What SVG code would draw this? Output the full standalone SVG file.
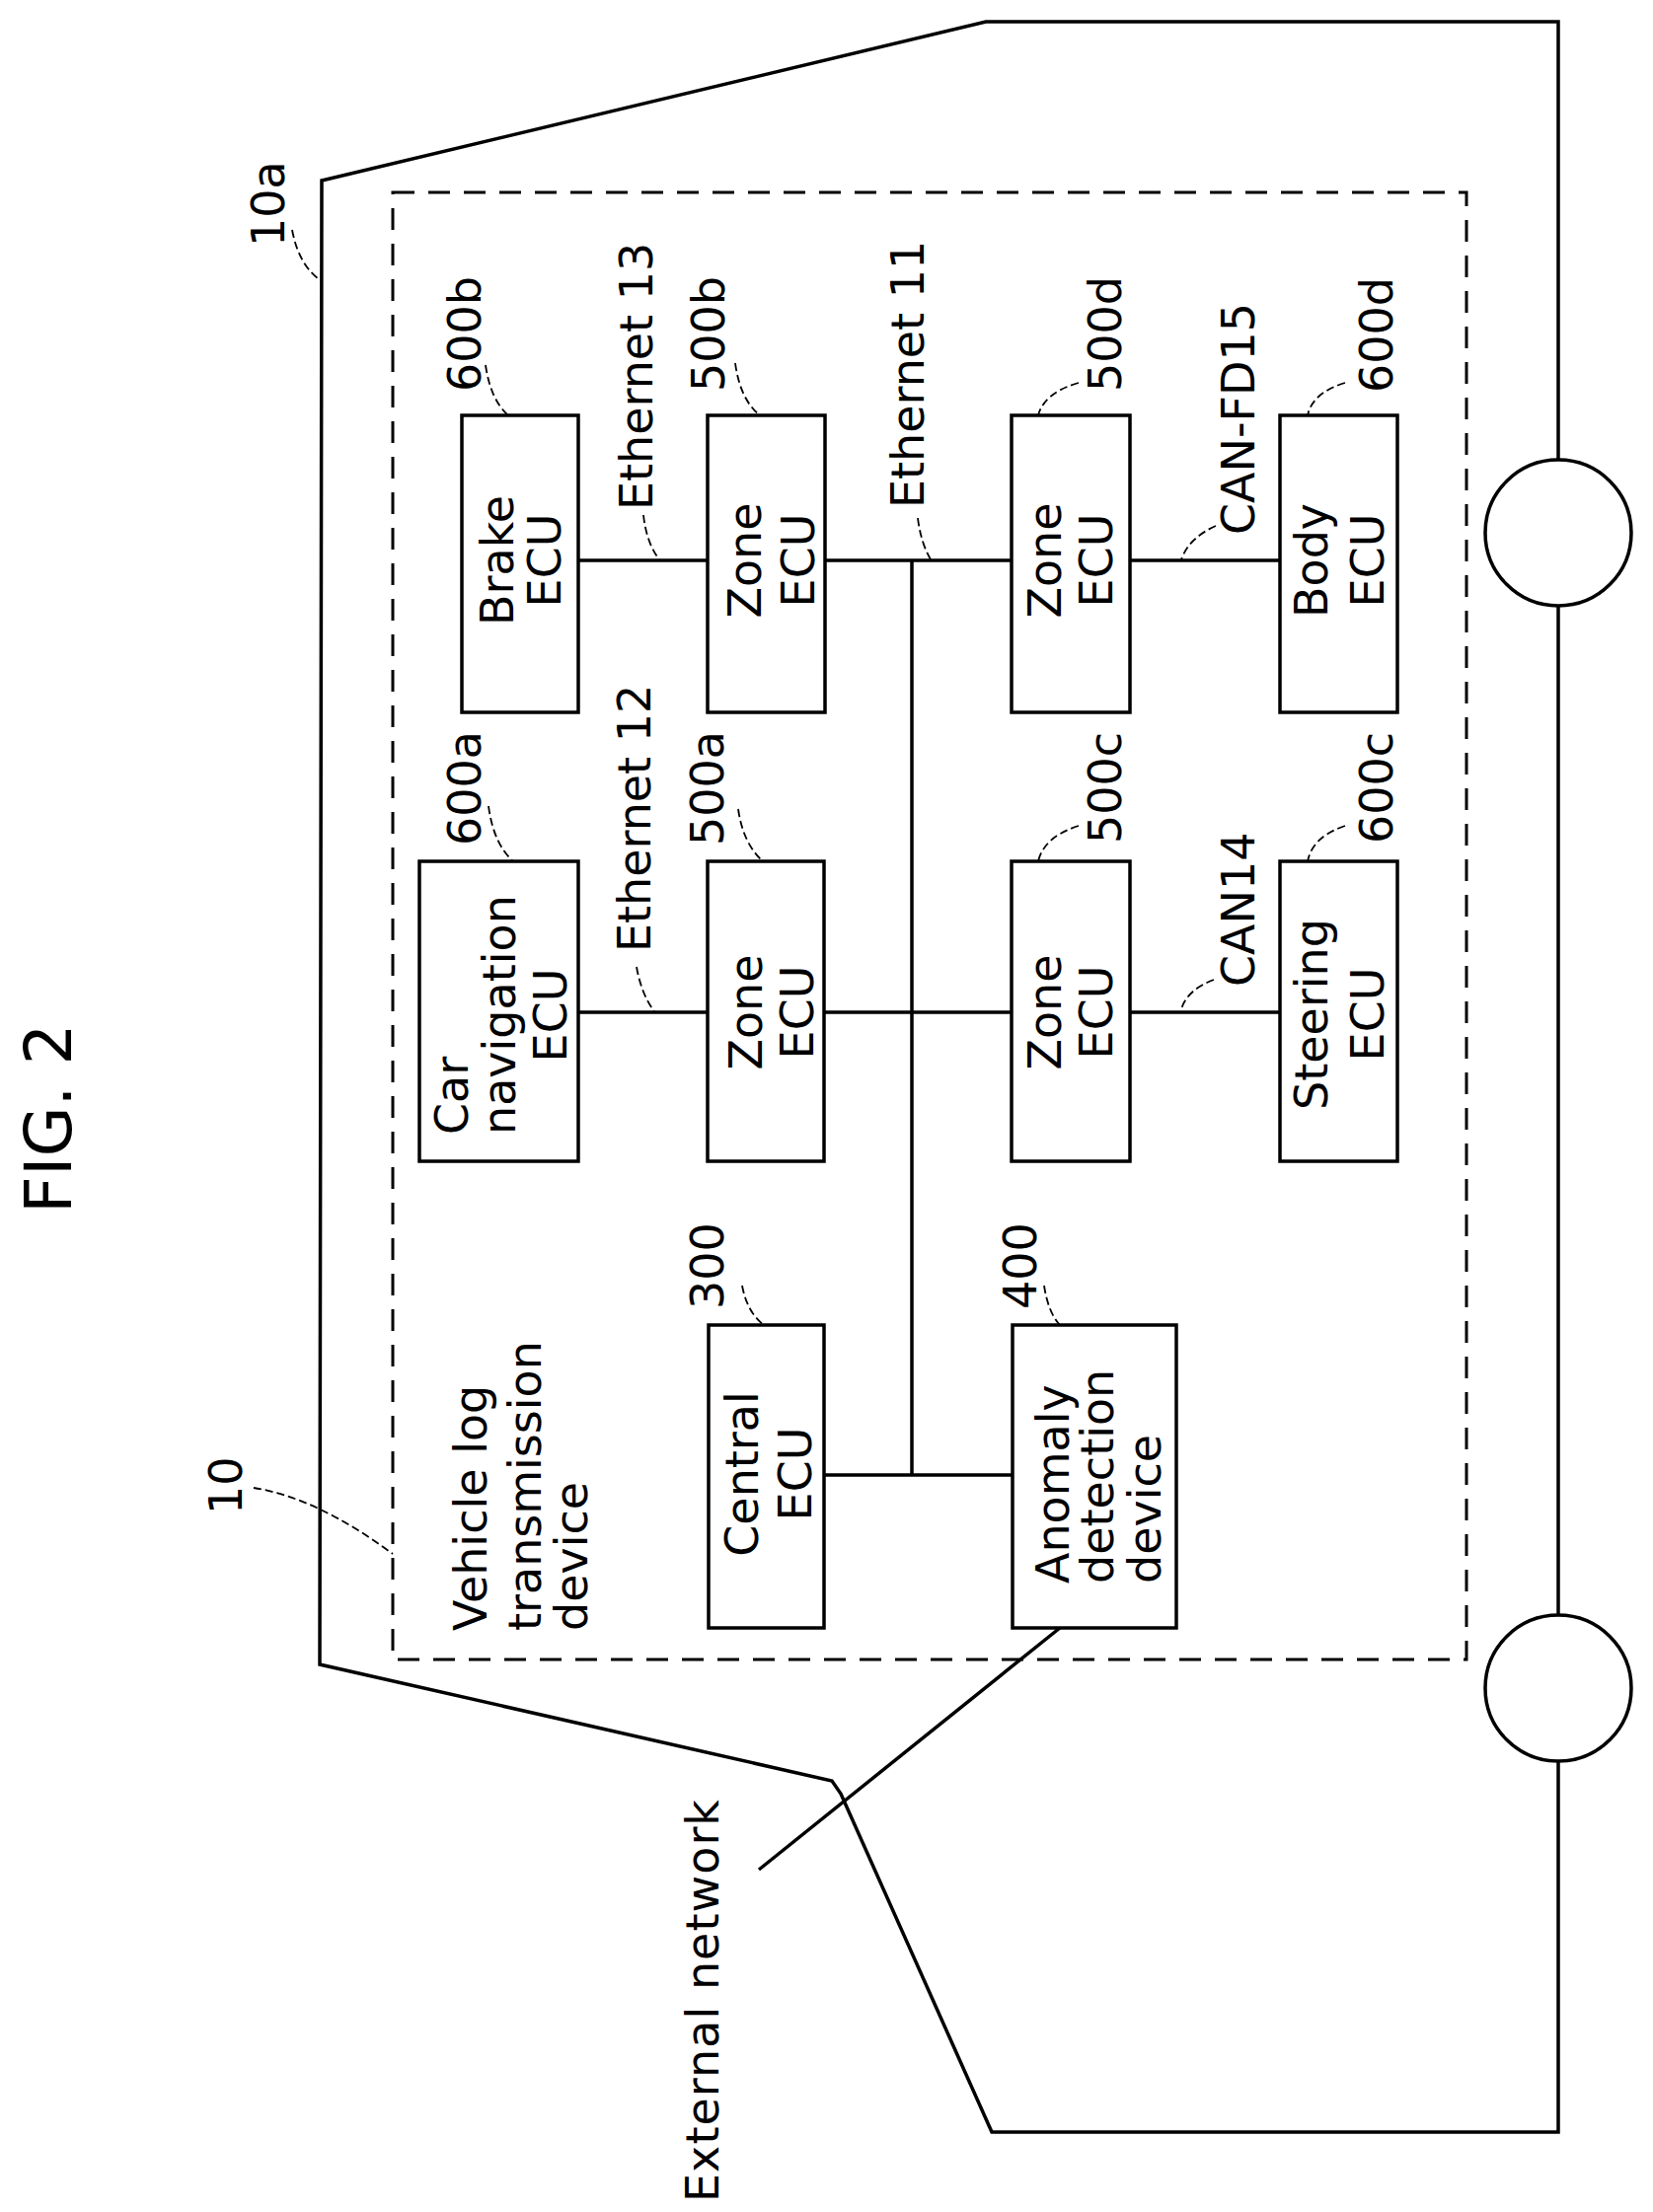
<svg xmlns="http://www.w3.org/2000/svg" width="1675" height="2242" viewBox="0 0 1675 2242">
<style>
text{font-family:"DejaVu Sans","Liberation Sans",sans-serif;font-size:46px;fill:#000}
.b{fill:#fff;stroke:#000;stroke-width:3.5}
.l{fill:none;stroke:#000;stroke-width:3.5}
.ld{fill:none;stroke:#000;stroke-width:1.8;stroke-dasharray:8 4}
.m{text-anchor:middle}
</style>
<rect width="1675" height="2242" fill="#fff"/>
<text style="font-size:66px" transform="translate(72,1230) rotate(-90)">FIG. 2</text>
<g id="vehicle">
<path class="l" d="M326 183 L999 22 L1579 22 L1579 2161 L1005 2161 L852 1818 L843 1805 L324 1687 Z"/>
<circle class="b" cx="1579" cy="540" r="74"/>
<circle class="b" cx="1579" cy="1711" r="74"/>
<text transform="translate(288,250) rotate(-90)">10a</text>
<path class="ld" d="M296 233 Q303 270 326 285"/>
</g>
<g id="device">
<rect x="398" y="195" width="1088" height="1487" fill="none" stroke="#000" stroke-width="3" stroke-dasharray="22 14"/>
<text transform="translate(245,1535) rotate(-90)">10</text>
<path class="ld" d="M257 1508 Q321 1518 398 1575"/>
<text transform="translate(493,1653) rotate(-90)">Vehicle log</text>
<text transform="translate(548,1653) rotate(-90)">transmission</text>
<text transform="translate(595,1653) rotate(-90)">device</text>
</g>
<g id="connectors">
<path class="l" d="M586 568H717M836 568H1025M1145 568H1297M586 1026H717M834 1026H1025M1145 1026H1297M924 568V1495M835 1495H1026M1074 1650L769 1895"/>
<text transform="translate(661,517) rotate(-90)">Ethernet 13</text>
<path class="ld" d="M652 522 Q655 550 668 567"/>
<text transform="translate(936,515) rotate(-90)">Ethernet 11</text>
<path class="ld" d="M930 525 Q933 550 943 567"/>
<text transform="translate(1271,542) rotate(-90)">CAN-FD15</text>
<path class="ld" d="M1232 533 Q1205 545 1197 567"/>
<text transform="translate(659,965) rotate(-90)">Ethernet 12</text>
<path class="ld" d="M645 980 Q650 1008 663 1025"/>
<text transform="translate(1271,1000) rotate(-90)">CAN14</text>
<path class="ld" d="M1230 993 Q1203 1003 1197 1023"/>
<text transform="translate(728,2232) rotate(-90)" textLength="408">External network</text>
</g>
<g id="brake">
<rect class="b" x="468" y="421" width="118" height="301"/>
<text class="m" transform="translate(520,568) rotate(-90)">Brake</text>
<text class="m" transform="translate(568,568) rotate(-90)">ECU</text>
<text transform="translate(487,397) rotate(-90)">600b</text>
<path class="ld" d="M492 370 Q497 405 515 421"/>
</g>
<g id="zone500b">
<rect class="b" x="717" y="421" width="119" height="301"/>
<text class="m" transform="translate(771,568) rotate(-90)">Zone</text>
<text class="m" transform="translate(825,568) rotate(-90)">ECU</text>
<text transform="translate(734,397) rotate(-90)">500b</text>
<path class="ld" d="M745 368 Q750 405 770 421"/>
</g>
<g id="zone500d">
<rect class="b" x="1025" y="421" width="120" height="301"/>
<text class="m" transform="translate(1075,568) rotate(-90)">Zone</text>
<text class="m" transform="translate(1127,568) rotate(-90)">ECU</text>
<text transform="translate(1136,397) rotate(-90)">500d</text>
<path class="ld" d="M1093 388 Q1058 398 1052 421"/>
</g>
<g id="body">
<rect class="b" x="1297" y="421" width="119" height="301"/>
<text class="m" transform="translate(1345,568) rotate(-90)">Body</text>
<text class="m" transform="translate(1402,568) rotate(-90)">ECU</text>
<text transform="translate(1411,398) rotate(-90)">600d</text>
<path class="ld" d="M1363 388 Q1330 398 1325 421"/>
</g>
<g id="carnav">
<rect class="b" x="425" y="873" width="161" height="304"/>
<text transform="translate(474,1150) rotate(-90)">Car</text>
<text transform="translate(522,1150) rotate(-90)">navigation</text>
<text class="m" transform="translate(574,1029) rotate(-90)">ECU</text>
<text transform="translate(487,857) rotate(-90)">600a</text>
<path class="ld" d="M495 817 Q500 855 520 873"/>
</g>
<g id="zone500a">
<rect class="b" x="717" y="873" width="118" height="304"/>
<text class="m" transform="translate(772,1026) rotate(-90)">Zone</text>
<text class="m" transform="translate(824,1026) rotate(-90)">ECU</text>
<text transform="translate(733,857) rotate(-90)">500a</text>
<path class="ld" d="M748 820 Q753 855 773 873"/>
</g>
<g id="zone500c">
<rect class="b" x="1025" y="873" width="120" height="304"/>
<text class="m" transform="translate(1075,1026) rotate(-90)">Zone</text>
<text class="m" transform="translate(1127,1026) rotate(-90)">ECU</text>
<text transform="translate(1136,855) rotate(-90)">500c</text>
<path class="ld" d="M1093 837 Q1058 848 1052 873"/>
</g>
<g id="steering">
<rect class="b" x="1297" y="873" width="119" height="304"/>
<text class="m" transform="translate(1345,1028) rotate(-90)">Steering</text>
<text class="m" transform="translate(1402,1028) rotate(-90)">ECU</text>
<text transform="translate(1411,855) rotate(-90)">600c</text>
<path class="ld" d="M1363 837 Q1330 848 1325 873"/>
</g>
<g id="central">
<rect class="b" x="718" y="1343" width="117" height="307"/>
<text class="m" transform="translate(768,1494) rotate(-90)">Central</text>
<text class="m" transform="translate(822,1494) rotate(-90)">ECU</text>
<text transform="translate(733,1327) rotate(-90)">300</text>
<path class="ld" d="M752 1303 Q757 1330 774 1343"/>
</g>
<g id="anomaly">
<rect class="b" x="1026" y="1343" width="166" height="307"/>
<text transform="translate(1083,1605) rotate(-90)">Anomaly</text>
<text transform="translate(1128,1605) rotate(-90)">detection</text>
<text transform="translate(1176,1605) rotate(-90)">device</text>
<text transform="translate(1050,1327) rotate(-90)">400</text>
<path class="ld" d="M1058 1303 Q1062 1330 1074 1343"/>
</g>
</svg>
